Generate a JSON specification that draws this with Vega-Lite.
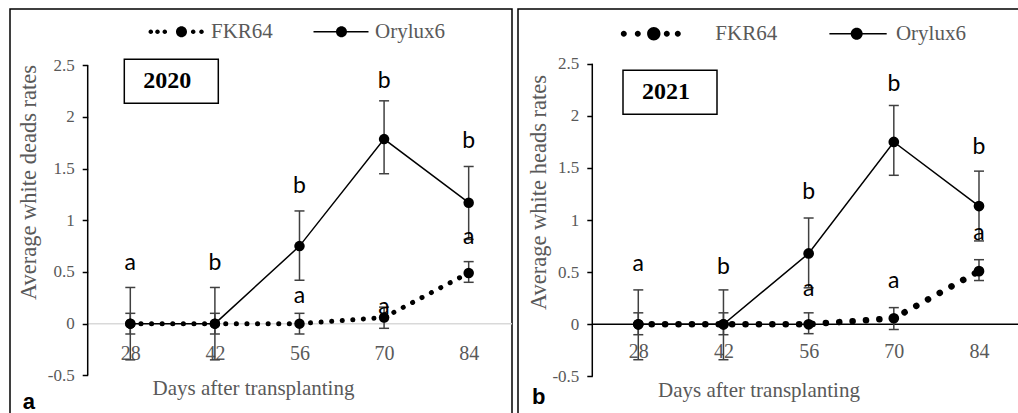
{
  "$schema": "https://vega.github.io/schema/vega-lite/v6.json",
  "background": "white",
  "padding": {"left": 9, "top": 8, "right": 0, "bottom": 0},
  "bounds": "flush",
  "spacing": 6,
  "config": {"view": {"stroke": "black", "strokeWidth": 1.5}, "axis": {"grid": false}},
  "resolve": {"scale": {"color": "independent", "shape": "independent"}, "legend": {"color": "independent", "shape": "independent"}},
  "datasets": {
    "d2020": [
      {"year": "2020", "day": 28, "series": "FKR64", "mean": 0, "lo": -0.1, "hi": 0.1},
      {"year": "2020", "day": 42, "series": "FKR64", "mean": 0, "lo": -0.1, "hi": 0.1},
      {"year": "2020", "day": 56, "series": "FKR64", "mean": 0, "lo": -0.1, "hi": 0.1},
      {"year": "2020", "day": 70, "series": "FKR64", "mean": 0.06, "lo": -0.045, "hi": 0.16},
      {"year": "2020", "day": 84, "series": "FKR64", "mean": 0.49, "lo": 0.4, "hi": 0.6},
      {"year": "2020", "day": 28, "series": "Orylux6", "mean": 0, "lo": -0.35, "hi": 0.35},
      {"year": "2020", "day": 42, "series": "Orylux6", "mean": 0, "lo": -0.35, "hi": 0.35},
      {"year": "2020", "day": 56, "series": "Orylux6", "mean": 0.75, "lo": 0.42, "hi": 1.09},
      {"year": "2020", "day": 70, "series": "Orylux6", "mean": 1.785, "lo": 1.45, "hi": 2.155},
      {"year": "2020", "day": 84, "series": "Orylux6", "mean": 1.17, "lo": 0.815, "hi": 1.52}
    ],
    "l2020": [
      {"year": "2020", "day": 28, "letter": "a", "ly": 0.516},
      {"year": "2020", "day": 42, "letter": "b", "ly": 0.516},
      {"year": "2020", "day": 56, "letter": "b", "ly": 1.267},
      {"year": "2020", "day": 56, "letter": "a", "ly": 0.203},
      {"year": "2020", "day": 70, "letter": "b", "ly": 2.277},
      {"year": "2020", "day": 70, "letter": "a", "ly": 0.09},
      {"year": "2020", "day": 84, "letter": "b", "ly": 1.7},
      {"year": "2020", "day": 84, "letter": "a", "ly": 0.768}
    ],
    "d2021": [
      {"year": "2021", "day": 28, "series": "FKR64", "mean": 0, "lo": -0.1, "hi": 0.11},
      {"year": "2021", "day": 42, "series": "FKR64", "mean": 0, "lo": -0.1, "hi": 0.11},
      {"year": "2021", "day": 56, "series": "FKR64", "mean": 0, "lo": -0.09, "hi": 0.11},
      {"year": "2021", "day": 70, "series": "FKR64", "mean": 0.058, "lo": -0.05, "hi": 0.16},
      {"year": "2021", "day": 84, "series": "FKR64", "mean": 0.51, "lo": 0.42, "hi": 0.62},
      {"year": "2021", "day": 28, "series": "Orylux6", "mean": 0, "lo": -0.34, "hi": 0.33},
      {"year": "2021", "day": 42, "series": "Orylux6", "mean": 0, "lo": -0.34, "hi": 0.33},
      {"year": "2021", "day": 56, "series": "Orylux6", "mean": 0.68, "lo": 0.35, "hi": 1.02},
      {"year": "2021", "day": 70, "series": "Orylux6", "mean": 1.75, "lo": 1.43, "hi": 2.1},
      {"year": "2021", "day": 84, "series": "Orylux6", "mean": 1.135, "lo": 0.8, "hi": 1.47}
    ],
    "l2021": [
      {"year": "2021", "day": 28, "letter": "a", "ly": 0.51},
      {"year": "2021", "day": 42, "letter": "b", "ly": 0.48},
      {"year": "2021", "day": 56, "letter": "b", "ly": 1.2},
      {"year": "2021", "day": 56, "letter": "a", "ly": 0.27},
      {"year": "2021", "day": 70, "letter": "b", "ly": 2.24},
      {"year": "2021", "day": 70, "letter": "a", "ly": 0.35},
      {"year": "2021", "day": 84, "letter": "b", "ly": 1.63},
      {"year": "2021", "day": 84, "letter": "a", "ly": 0.81}
    ]
  },
  "hconcat": [
    {
      "width": 502,
      "height": 410,
      "title": {"text": "a", "orient": "bottom", "anchor": "start", "frame": "group", "offset": -10, "dx": 12.7, "baseline": "alphabetic", "font": "Liberation Sans", "fontWeight": "bold", "fontSize": 22, "color": "black"},
      "layer": [
        {
          "data": {"values": [{}]},
          "mark": {"type": "rule", "color": "#d9d9d9", "strokeWidth": 1.5},
          "encoding": {
            "x": {"datum": 20.95, "type": "quantitative", "scale": {"domain": [8.09, 91.17], "nice": false, "zero": false},
              "axis": {"orient": "bottom", "offset": -95, "values": [28, 42, 56, 70, 84], "domain": false, "ticks": false, "tickSize": 0, "grid": false, "labelPadding": 35, "labelBaseline": "alphabetic", "labelFont": "Liberation Serif", "labelFontSize": 20, "labelColor": "#595959", "labelFlush": false, "labelOverlap": false, "title": "Days after transplanting", "titleFont": "Liberation Serif", "titleFontSize": 21, "titleFontWeight": "normal", "titleColor": "#595959", "titleX": 243, "titleY": 70, "titleBaseline": "alphabetic", "titleAlign": "center"}},
            "x2": {"datum": 91.17},
            "y": {"datum": 0, "type": "quantitative", "scale": {"domain": [-0.922, 3.043], "nice": false, "zero": false},
              "axis": {"orient": "left", "offset": -77.7, "values": [-0.5, 0, 0.5, 1, 1.5, 2, 2.5], "domain": false, "ticks": true, "tickSize": 5.5, "tickColor": "black", "tickWidth": 1.5, "grid": false, "labelPadding": 8, "labelFont": "Liberation Serif", "labelFontSize": 17, "labelColor": "#595959", "labelFlush": false, "labelOverlap": false, "labelExpr": "datum.value < 0 ? '-' + format(-datum.value, '~g') : format(datum.value, '~g')", "title": "Average white deads rates", "titleFont": "Liberation Serif", "titleFontSize": 22.5, "titleFontWeight": "normal", "titleColor": "#595959", "titleAngle": -90, "titleX": -51.7, "titleY": 173, "titleBaseline": "alphabetic", "titleAlign": "center"}}
          }
        },
        {
          "data": {"values": [{}]},
          "mark": {"type": "rule", "color": "black", "strokeWidth": 1.5},
          "encoding": {
            "x": {"datum": 20.95, "type": "quantitative", "scale": {"domain": [8.09, 91.17], "nice": false, "zero": false}},
            "y": {"datum": -0.5, "type": "quantitative", "scale": {"domain": [-0.922, 3.043], "nice": false, "zero": false}},
            "y2": {"datum": 2.5}
          }
        },
        {
          "data": {"name": "d2020"},
          "mark": {"type": "rule", "color": "#404040", "strokeWidth": 1.5},
          "encoding": {
            "x": {"field": "day", "type": "quantitative", "scale": {"domain": [8.09, 91.17], "nice": false, "zero": false}},
            "y": {"field": "lo", "type": "quantitative", "scale": {"domain": [-0.922, 3.043], "nice": false, "zero": false}},
            "y2": {"field": "hi"}
          }
        },
        {
          "data": {"name": "d2020"},
          "mark": {"type": "tick", "orient": "horizontal", "size": 10, "thickness": 1.5, "color": "#404040", "opacity": 1},
          "encoding": {
            "x": {"field": "day", "type": "quantitative", "scale": {"domain": [8.09, 91.17], "nice": false, "zero": false}},
            "y": {"field": "lo", "type": "quantitative", "scale": {"domain": [-0.922, 3.043], "nice": false, "zero": false}}
          }
        },
        {
          "data": {"name": "d2020"},
          "mark": {"type": "tick", "orient": "horizontal", "size": 10, "thickness": 1.5, "color": "#404040", "opacity": 1},
          "encoding": {
            "x": {"field": "day", "type": "quantitative", "scale": {"domain": [8.09, 91.17], "nice": false, "zero": false}},
            "y": {"field": "hi", "type": "quantitative", "scale": {"domain": [-0.922, 3.043], "nice": false, "zero": false}}
          }
        },
        {
          "data": {"name": "d2020"},
          "transform": [{"filter": "datum.series === 'Orylux6'"}],
          "mark": {"type": "line", "color": "black", "strokeWidth": 1.5},
          "encoding": {
            "x": {"field": "day", "type": "quantitative", "scale": {"domain": [8.09, 91.17], "nice": false, "zero": false}},
            "y": {"field": "mean", "type": "quantitative", "scale": {"domain": [-0.922, 3.043], "nice": false, "zero": false}}
          }
        },
        {
          "data": {"name": "d2020"},
          "transform": [{"filter": "datum.series === 'FKR64'"}],
          "mark": {"type": "line", "color": "black", "strokeWidth": 5, "strokeDash": [0.1, 10.5], "strokeCap": "round"},
          "encoding": {
            "x": {"field": "day", "type": "quantitative", "scale": {"domain": [8.09, 91.17], "nice": false, "zero": false}},
            "y": {"field": "mean", "type": "quantitative", "scale": {"domain": [-0.922, 3.043], "nice": false, "zero": false}}
          }
        },
        {
          "data": {"name": "d2020"},
          "mark": {"type": "point", "filled": true, "size": 110, "color": "black", "opacity": 1},
          "encoding": {
            "x": {"field": "day", "type": "quantitative", "scale": {"domain": [8.09, 91.17], "nice": false, "zero": false}},
            "y": {"field": "mean", "type": "quantitative", "scale": {"domain": [-0.922, 3.043], "nice": false, "zero": false}}
          }
        },
        {
          "data": {"name": "d2020"},
          "transform": [{"filter": "false"}],
          "mark": {"type": "point", "filled": true, "color": "black", "opacity": 1},
          "encoding": {
            "x": {"field": "day", "type": "quantitative", "scale": {"domain": [8.09, 91.17], "nice": false, "zero": false}},
            "y": {"field": "mean", "type": "quantitative", "scale": {"domain": [-0.922, 3.043], "nice": false, "zero": false}},
            "shape": {"field": "series", "type": "nominal",
              "scale": {"domain": ["FKR64", "Orylux6"], "range": [
                "M-10,0A0.46,0.46 0 1,1 -9.08,0A0.46,0.46 0 1,1 -10,0Z M-8.66,0A0.46,0.46 0 1,1 -7.74,0A0.46,0.46 0 1,1 -8.66,0Z M-7.2,0A0.46,0.46 0 1,1 -6.28,0A0.46,0.46 0 1,1 -7.2,0Z M-4.5,0A1.1,1.1 0 1,1 -2.3,0A1.1,1.1 0 1,1 -4.5,0Z M-1.52,0A0.46,0.46 0 1,1 -0.6,0A0.46,0.46 0 1,1 -1.52,0Z M0.14,0A0.46,0.46 0 1,1 1.06,0A0.46,0.46 0 1,1 0.14,0Z",
                "M-9.8,-0.15H1.2V0.15H-9.8Z M-5.3,0A1.1,1.1 0 1,1 -3.1,0A1.1,1.1 0 1,1 -5.3,0Z"
              ]},
              "legend": {"orient": "none", "legendX": 178, "legendY": 12, "direction": "horizontal", "title": null, "padding": 0, "symbolSize": 100, "labelOffset": 2, "columnPadding": 40, "labelFont": "Liberation Serif", "labelFontSize": 21, "labelColor": "#595959", "labelBaseline": "middle", "symbolFillColor": "black", "symbolStrokeWidth": 0, "symbolOpacity": 1}}
          }
        },
        {
          "data": {"name": "l2020"},
          "mark": {"type": "text", "font": "Lato", "fontSize": 23, "baseline": "alphabetic", "align": "center"},
          "encoding": {
            "x": {"field": "day", "type": "quantitative", "scale": {"domain": [8.09, 91.17], "nice": false, "zero": false}},
            "y": {"field": "ly", "type": "quantitative", "scale": {"domain": [-0.922, 3.043], "nice": false, "zero": false}},
            "text": {"field": "letter", "type": "nominal"},
            "color": {"field": "year", "type": "nominal", "scale": {"range": ["black"]},
              "legend": {"orient": "none", "legendX": 114.3, "legendY": 50.3, "title": "—", "titleOrient": "right", "titleOpacity": 0, "titleFontSize": 17, "titlePadding": 0, "padding": 10, "strokeColor": "black", "symbolSize": 0, "symbolOpacity": 0, "symbolStrokeWidth": 0, "labelOffset": -15, "labelFont": "Liberation Serif", "labelFontWeight": "bold", "labelFontSize": 24, "labelColor": "black",
                "encode": {"legend": {"update": {"strokeWidth": {"value": 1.5}}}}}}
          }
        }
      ]
    },
    {
      "width": 502,
      "height": 410,
      "title": {"text": "b", "orient": "bottom", "anchor": "start", "frame": "group", "offset": -15, "dx": 14, "baseline": "alphabetic", "font": "Liberation Sans", "fontWeight": "bold", "fontSize": 22, "color": "black"},
      "layer": [
        {
          "data": {"values": [{}]},
          "mark": {"type": "rule", "color": "black", "strokeWidth": 1.5},
          "encoding": {
            "x": {"datum": 20.44, "type": "quantitative", "scale": {"domain": [8.23, 90.74], "nice": false, "zero": false},
              "axis": {"orient": "bottom", "offset": -94.7, "values": [28, 42, 56, 70, 84], "domain": false, "ticks": false, "tickSize": 0, "grid": false, "labelPadding": 33, "labelBaseline": "alphabetic", "labelFont": "Liberation Serif", "labelFontSize": 20, "labelColor": "#595959", "labelFlush": false, "labelOverlap": false, "title": "Days after transplanting", "titleFont": "Liberation Serif", "titleFontSize": 21, "titleFontWeight": "normal", "titleColor": "#595959", "titleX": 240.5, "titleY": 71.7, "titleBaseline": "alphabetic", "titleAlign": "center"}},
            "x2": {"datum": 90.74},
            "y": {"datum": 0, "type": "quantitative", "scale": {"domain": [-0.909, 3.026], "nice": false, "zero": false},
              "axis": {"orient": "left", "offset": -74.3, "values": [-0.5, 0, 0.5, 1, 1.5, 2, 2.5], "domain": false, "ticks": true, "tickSize": 5.5, "tickColor": "black", "tickWidth": 1.5, "grid": false, "labelPadding": 8, "labelFont": "Liberation Serif", "labelFontSize": 17, "labelColor": "#595959", "labelFlush": false, "labelOverlap": false, "labelExpr": "datum.value < 0 ? '-' + format(-datum.value, '~g') : format(datum.value, '~g')", "title": "Average white heads rates", "titleFont": "Liberation Serif", "titleFontSize": 22.5, "titleFontWeight": "normal", "titleColor": "#595959", "titleAngle": -90, "titleX": -46.6, "titleY": 183, "titleBaseline": "alphabetic", "titleAlign": "center"}}
          }
        },
        {
          "data": {"values": [{}]},
          "mark": {"type": "rule", "color": "black", "strokeWidth": 1.5},
          "encoding": {
            "x": {"datum": 20.44, "type": "quantitative", "scale": {"domain": [8.23, 90.74], "nice": false, "zero": false}},
            "y": {"datum": -0.5, "type": "quantitative", "scale": {"domain": [-0.909, 3.026], "nice": false, "zero": false}},
            "y2": {"datum": 2.5}
          }
        },
        {
          "data": {"name": "d2021"},
          "mark": {"type": "rule", "color": "#404040", "strokeWidth": 1.5},
          "encoding": {
            "x": {"field": "day", "type": "quantitative", "scale": {"domain": [8.23, 90.74], "nice": false, "zero": false}},
            "y": {"field": "lo", "type": "quantitative", "scale": {"domain": [-0.909, 3.026], "nice": false, "zero": false}},
            "y2": {"field": "hi"}
          }
        },
        {
          "data": {"name": "d2021"},
          "mark": {"type": "tick", "orient": "horizontal", "size": 10, "thickness": 1.5, "color": "#404040", "opacity": 1},
          "encoding": {
            "x": {"field": "day", "type": "quantitative", "scale": {"domain": [8.23, 90.74], "nice": false, "zero": false}},
            "y": {"field": "lo", "type": "quantitative", "scale": {"domain": [-0.909, 3.026], "nice": false, "zero": false}}
          }
        },
        {
          "data": {"name": "d2021"},
          "mark": {"type": "tick", "orient": "horizontal", "size": 10, "thickness": 1.5, "color": "#404040", "opacity": 1},
          "encoding": {
            "x": {"field": "day", "type": "quantitative", "scale": {"domain": [8.23, 90.74], "nice": false, "zero": false}},
            "y": {"field": "hi", "type": "quantitative", "scale": {"domain": [-0.909, 3.026], "nice": false, "zero": false}}
          }
        },
        {
          "data": {"name": "d2021"},
          "transform": [{"filter": "datum.series === 'Orylux6'"}],
          "mark": {"type": "line", "color": "black", "strokeWidth": 1.5},
          "encoding": {
            "x": {"field": "day", "type": "quantitative", "scale": {"domain": [8.23, 90.74], "nice": false, "zero": false}},
            "y": {"field": "mean", "type": "quantitative", "scale": {"domain": [-0.909, 3.026], "nice": false, "zero": false}}
          }
        },
        {
          "data": {"name": "d2021"},
          "transform": [{"filter": "datum.series === 'FKR64'"}],
          "mark": {"type": "line", "color": "black", "strokeWidth": 6.5, "strokeDash": [0.1, 13.3], "strokeCap": "round"},
          "encoding": {
            "x": {"field": "day", "type": "quantitative", "scale": {"domain": [8.23, 90.74], "nice": false, "zero": false}},
            "y": {"field": "mean", "type": "quantitative", "scale": {"domain": [-0.909, 3.026], "nice": false, "zero": false}}
          }
        },
        {
          "data": {"name": "d2021"},
          "mark": {"type": "point", "filled": true, "size": 115, "color": "black", "opacity": 1},
          "encoding": {
            "x": {"field": "day", "type": "quantitative", "scale": {"domain": [8.23, 90.74], "nice": false, "zero": false}},
            "y": {"field": "mean", "type": "quantitative", "scale": {"domain": [-0.909, 3.026], "nice": false, "zero": false}}
          }
        },
        {
          "data": {"name": "d2021"},
          "transform": [{"filter": "false"}],
          "mark": {"type": "point", "filled": true, "color": "black", "opacity": 1},
          "encoding": {
            "x": {"field": "day", "type": "quantitative", "scale": {"domain": [8.23, 90.74], "nice": false, "zero": false}},
            "y": {"field": "mean", "type": "quantitative", "scale": {"domain": [-0.909, 3.026], "nice": false, "zero": false}},
            "shape": {"field": "series", "type": "nominal",
              "scale": {"domain": ["FKR64", "Orylux6"], "range": [
                "M-16,0A0.6,0.6 0 1,1 -14.8,0A0.6,0.6 0 1,1 -16,0Z M-13.2,0A0.6,0.6 0 1,1 -12,0A0.6,0.6 0 1,1 -13.2,0Z M-10.74,0A1.34,1.34 0 1,1 -8.06,0A1.34,1.34 0 1,1 -10.74,0Z M-7.4,0A0.6,0.6 0 1,1 -6.2,0A0.6,0.6 0 1,1 -7.4,0Z M-5.2,0A0.6,0.6 0 1,1 -4,0A0.6,0.6 0 1,1 -5.2,0Z",
                "M-10.4,-0.15H1.06V0.15H-10.4Z M-6.14,0A1.2,1.2 0 1,1 -3.74,0A1.2,1.2 0 1,1 -6.14,0Z"
              ]},
              "legend": {"orient": "none", "legendX": 172.3, "legendY": 14, "direction": "horizontal", "title": null, "padding": 0, "symbolSize": 100, "labelOffset": 4, "columnPadding": 51.6, "labelFont": "Liberation Serif", "labelFontSize": 21, "labelColor": "#595959", "labelBaseline": "middle", "symbolFillColor": "black", "symbolStrokeWidth": 0, "symbolOpacity": 1}}
          }
        },
        {
          "data": {"name": "l2021"},
          "mark": {"type": "text", "font": "Lato", "fontSize": 23, "baseline": "alphabetic", "align": "center"},
          "encoding": {
            "x": {"field": "day", "type": "quantitative", "scale": {"domain": [8.23, 90.74], "nice": false, "zero": false}},
            "y": {"field": "ly", "type": "quantitative", "scale": {"domain": [-0.909, 3.026], "nice": false, "zero": false}},
            "text": {"field": "letter", "type": "nominal"},
            "color": {"field": "year", "type": "nominal", "scale": {"range": ["black"]},
              "legend": {"orient": "none", "legendX": 105, "legendY": 61.3, "title": "—", "titleOrient": "right", "titleOpacity": 0, "titleFontSize": 17, "titlePadding": 0, "padding": 10, "strokeColor": "black", "symbolSize": 0, "symbolOpacity": 0, "symbolStrokeWidth": 0, "labelOffset": -15, "labelFont": "Liberation Serif", "labelFontWeight": "bold", "labelFontSize": 24, "labelColor": "black",
                "encode": {"legend": {"update": {"strokeWidth": {"value": 1.5}}}}}}
          }
        }
      ]
    }
  ]
}
